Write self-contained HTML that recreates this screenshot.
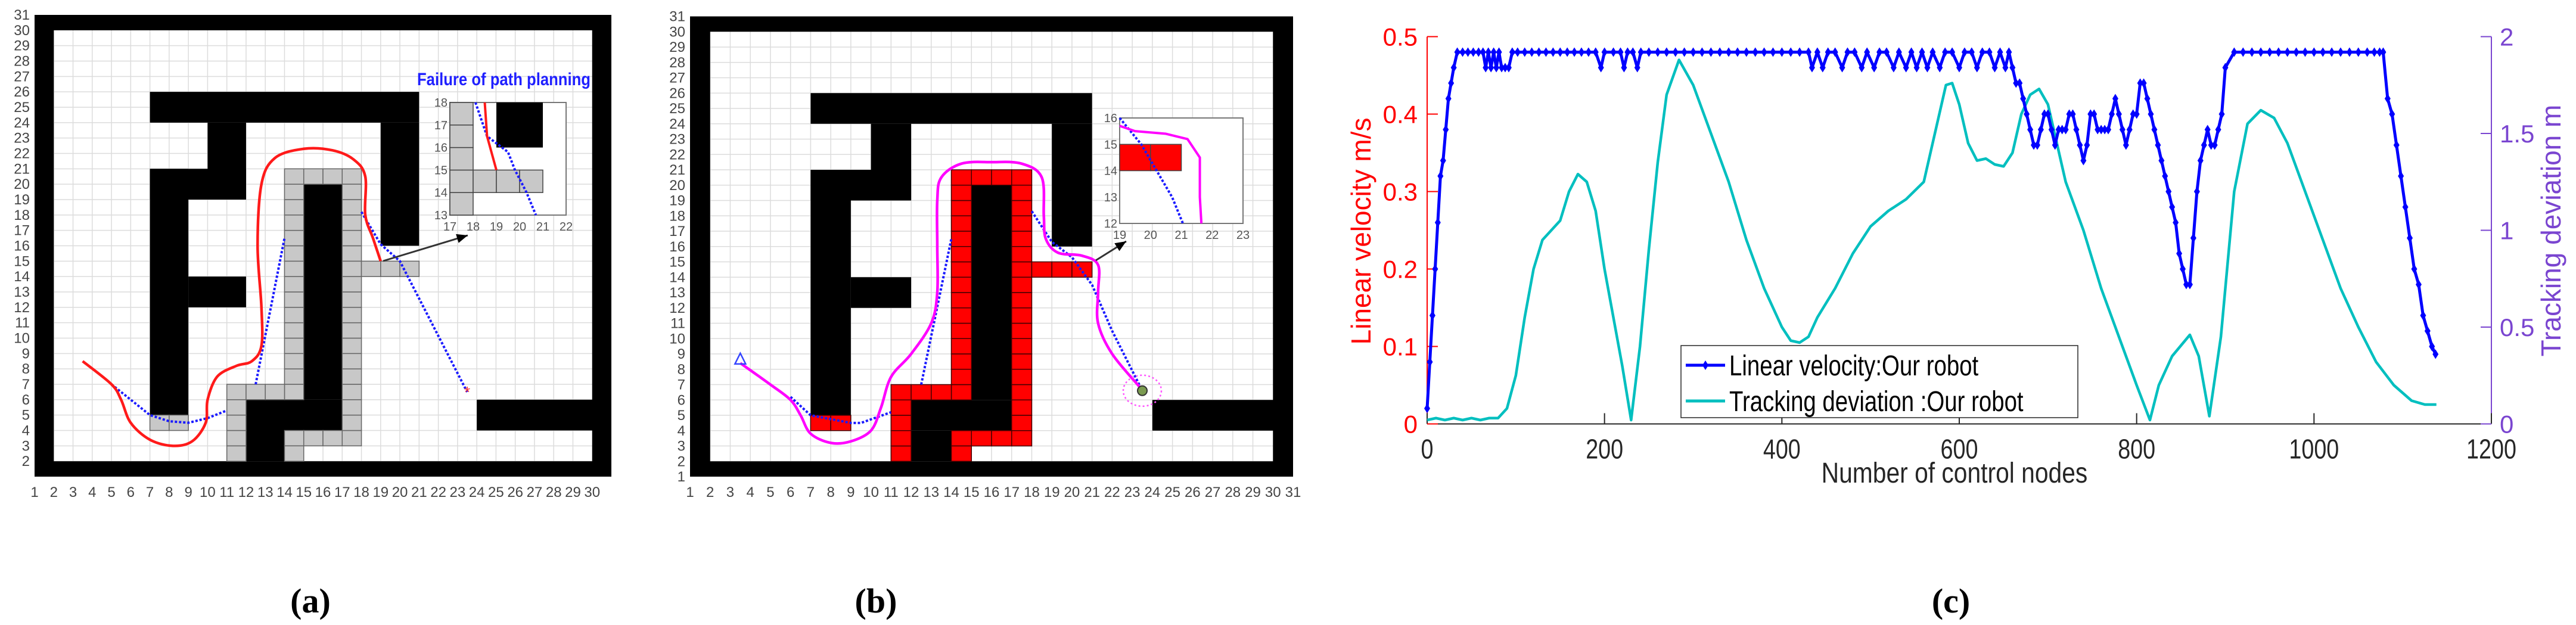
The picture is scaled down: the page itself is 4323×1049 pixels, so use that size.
<!DOCTYPE html>
<html><head><meta charset="utf-8">
<style>
html,body{margin:0;padding:0;background:#fff;}
svg{display:block;}
text{font-family:"Liberation Sans",sans-serif;}
</style></head>
<body>
<svg id="fig" width="4323" height="1049" viewBox="0 0 4323 1049" xmlns="http://www.w3.org/2000/svg">
<rect x="0" y="0" width="4323" height="1049" fill="#fff"/>
<g id="panelA"></g>
<g id="panelB"></g>
<g id="panelC"></g>
<text x="521" y="1028" font-weight="bold" font-size="58" text-anchor="middle" style="font-family:'Liberation Serif',serif">(a)</text>
<text x="1470" y="1028" font-weight="bold" font-size="58" text-anchor="middle" style="font-family:'Liberation Serif',serif">(b)</text>
<text x="3274" y="1028" font-weight="bold" font-size="58" text-anchor="middle" style="font-family:'Liberation Serif',serif">(c)</text>
</svg>
<script>
// ---------- Maze data (grid units) ----------
var blackRects = [[1,1,31,2],[1,30,31,31],[1,1,2,31],[30,1,31,31],[7,24,21,26],[10,19,12,24],[7,19,12,21],[7,5,9,21],[9,12,12,14],[19,16,21,24],[24,4,31,6],[15,6,17,20],[12,4,17,6],[12,2,14,4]];
var cellRects = [[14,6,15,21],[15,20,18,21],[17,3,18,20],[14,3,17,4],[14,2,15,3],[11,2,12,7],[12,6,14,7],[7,4,9,5],[18,14,21,15]];
var pathA = [[3.5,8.5],[5,7],[5.5,6],[6,4.5],[7,3.4],[8.2,3],[9.2,3.3],[9.9,4.5],[10,6],[10.5,7.5],[11.5,8.2],[12.3,8.5],[12.8,9.5],[12.8,12],[12.6,16],[12.8,20],[13.5,21.7],[15,22.3],[16.5,22.2],[17.6,21.6],[18.2,20.5],[18.2,18],[18.6,16.5],[19,15]];
var blueA1 = [[5,7],[7,5],[8,4.6],[9,4.5],[10,4.8],[11,5.3]];
var blueA2 = [[12.5,7],[14,16.5]];
var blueA3 = [[18,18.2],[19,16.1],[20,15],[23.5,6.5]];
var pathB = [[3.5,8.4],[5,7],[6,6],[6.5,5],[7,3.8],[8,3.2],[9,3.3],[10,4],[10.5,5.5],[11,7.5],[12,9],[13,11],[13.3,13],[13.3,16],[13.3,19],[13.5,20.5],[14.5,21.4],[16,21.5],[17.5,21.4],[18.5,20.5],[18.6,18],[18.7,16.5],[19.3,15.6],[20.5,15.4],[21.3,14.8],[21.3,13],[21.3,11],[22,9],[23.4,6.8]];
var blueB1 = [[6,6.2],[7,5],[9,4.5],[9.5,4.5],[11,5.2]];
var blueB2 = [[12.5,7],[14,16.5]];
var blueB3 = [[18,18.3],[19,16.3],[20,15.3],[21,13.5],[22,10.5],[23.5,6.6]];
var NS='http://www.w3.org/2000/svg';
function mk(tag,attrs,parent){var e=document.createElementNS(NS,tag);for(var k in attrs)e.setAttribute(k,attrs[k]);parent.appendChild(e);return e;}
function drawMaze(g,x0,x1,yTop,yBot,cellFill,cellStroke,path,pathColor,blues){
  var cw=(x1-x0)/30, ch=(yBot-yTop)/30;
  function X(v){return x0+(v-1)*cw;} function Y(v){return yBot-(v-1)*ch;}
  var bg=mk('rect',{x:X(1),y:Y(31),width:30*cw,height:30*ch,fill:'#fff'},g);
  
  
  for(var i=2;i<30;i++){
    var l=mk('line',{x1:X(i),x2:X(i),y1:Y(31),y2:Y(1),stroke:'#dcdcdc','stroke-width':1.5},g);
    
    
    var l2=mk('line',{x1:X(1),x2:X(31),y1:Y(i),y2:Y(i),stroke:'#dcdcdc','stroke-width':1.5},g);
    
    
  }
  blackRects.forEach(function(r){
    var e=mk('rect',{x:X(r[0]),y:Y(r[3]),width:(r[2]-r[0])*cw,height:(r[3]-r[1])*ch,fill:'#000'},g);
    
    
  });
  cellRects.forEach(function(r){
    for(var cx=r[0];cx<r[2];cx++)for(var cy=r[1];cy<r[3];cy++){
      var e=mk('rect',{x:X(cx),y:Y(cy+1),width:cw,height:ch,fill:cellFill,stroke:cellStroke,'stroke-width':1.5},g);
      
      
    }
  });
  blues.forEach(function(b){
    var p=mk('polyline',{points:b.map(function(q){return X(q[0])+','+Y(q[1]);}).join(' '),fill:'none',stroke:'#1a1aff','stroke-width':4,'stroke-dasharray':'4 3'},g);
    
    
  });
  var d='M'+X(path[0][0])+','+Y(path[0][1]);
  for(var i=1;i<path.length;i++){
    var p0=path[Math.max(i-2,0)],p1=path[i-1],p2=path[i],p3=path[Math.min(i+1,path.length-1)];
    var c1x=X(p1[0])+(X(p2[0])-X(p0[0]))/6,c1y=Y(p1[1])+(Y(p2[1])-Y(p0[1]))/6;
    var c2x=X(p2[0])-(X(p3[0])-X(p1[0]))/6,c2y=Y(p2[1])-(Y(p3[1])-Y(p1[1]))/6;
    d+=' C'+c1x+','+c1y+' '+c2x+','+c2y+' '+X(p2[0])+','+Y(p2[1]);
  }
  var rp=mk('path',{d:d,fill:'none',stroke:pathColor,'stroke-width':4.5},g);
  
  
  for(var i=1;i<=31;i++){
    if(i<=30||x1>2000){
      var t=mk('text',{x:X(i),y:yBot+34,'font-size':24,fill:'#444','text-anchor':'middle'},g);t.textContent=i;
      
      
    }
    if(i>=2||x1>2000){
      var t2=mk('text',{x:x0-8,y:Y(i)+8,'font-size':24,fill:'#444','text-anchor':'end'},g);t2.textContent=i;
      
      
    }
  }
  return {X:X,Y:Y};
}
function drawInset(g,bx0,by0,bx1,by1,xr,yr,cells,blacks,line,lineColor,blue){
  var sx=(bx1-bx0)/(xr[1]-xr[0]), sy=(by1-by0)/(yr[1]-yr[0]);
  function X(v){return bx0+(v-xr[0])*sx;} function Y(v){return by1-(v-yr[0])*sy;}
  var b=mk('rect',{x:bx0,y:by0,width:bx1-bx0,height:by1-by0,fill:'#fff',stroke:'#777','stroke-width':2},g);
  
  
  blacks.forEach(function(r){var e=mk('rect',{x:X(r[0]),y:Y(r[3]),width:(r[2]-r[0])*sx,height:(r[3]-r[1])*sy,fill:'#000'},g);
    
    });
  cells.forEach(function(r){
    for(var cx=r[0];cx<r[2];cx++)for(var cy=r[1];cy<r[3];cy++){
      var e=mk('rect',{x:X(cx),y:Y(cy+1),width:sx,height:sy,fill:r[4],stroke:'#444','stroke-width':1.5},g);
      
      
    }
  });
  var bp=mk('polyline',{points:blue.map(function(q){return X(q[0])+','+Y(q[1]);}).join(' '),fill:'none',stroke:'#1a1aff','stroke-width':4,'stroke-dasharray':'4 3'},g);
  
  
  var lp=mk('polyline',{points:line.map(function(q){return X(q[0])+','+Y(q[1]);}).join(' '),fill:'none',stroke:lineColor,'stroke-width':4,'stroke-linejoin':'round'},g);
  
  
  for(var v=xr[0];v<=xr[1];v++){var t=mk('text',{x:X(v),y:by1+26,'font-size':20,fill:'#555','text-anchor':'middle'},g);t.textContent=v;
    
    }
  for(var v=yr[0];v<=yr[1];v++){var t=mk('text',{x:bx0-4,y:Y(v)+7,'font-size':20,fill:'#555','text-anchor':'end'},g);t.textContent=v;
    
    }
}
function arrow(g,xa,ya,xb,yb){
  var l=mk('line',{x1:xa,y1:ya,x2:xb,y2:yb,stroke:'#333','stroke-width':3},g);
  
  
  var a=Math.atan2(yb-ya,xb-xa),L=20;
  var h=mk('polygon',{points:xb+','+yb+' '+(xb-L*Math.cos(a-0.4))+','+(yb-L*Math.sin(a-0.4))+' '+(xb-L*Math.cos(a+0.4))+','+(yb-L*Math.sin(a+0.4)),fill:'#000'},g);
  
  
}
var gA=document.getElementById('panelA');
var A=drawMaze(gA,58,1026,25,800,'#c8c8c8','#666',pathA,'#ff1a1a',[blueA1,blueA2,blueA3]);
var star=mk('text',{x:A.X(23.5),y:A.Y(6.5)+9,'font-size':26,fill:'#ff3333','text-anchor':'middle'},gA);star.textContent='*';


var ttl=mk('text',{x:700,y:143,'font-size':30,'font-weight':'bold',fill:'#2020ff',textLength:291,lengthAdjust:'spacingAndGlyphs'},gA);ttl.textContent='Failure of path planning';


drawInset(gA,755,172,950,361,[17,22],[13,18],[[17,13,18,18,'#c8c8c8'],[18,14,21,15,'#c8c8c8']],[[19,16,21,18]],[[18.5,18],[18.6,16.5],[19,15]],'#ff1a1a',[[18.1,18],[18.6,16.5],[19.5,15.8],[19.8,15],[20.3,14],[20.7,13]]);
arrow(gA,643,438,785,395);

var gB=document.getElementById('panelB');
var B=drawMaze(gB,1158,2170,27.5,800,'#ff0000','#400',pathB,'#ff00ff',[blueB1,blueB2,blueB3]);
var tri=mk('polygon',{points:B.X(3.5)+','+(B.Y(8.5)-14)+' '+(B.X(3.5)-9)+','+(B.Y(8.5)+4)+' '+(B.X(3.5)+9)+','+(B.Y(8.5)+4),fill:'none',stroke:'#3344ff','stroke-width':2.5},gB);


var gc=mk('ellipse',{cx:B.X(23.5),cy:B.Y(6.6),rx:32,ry:26,fill:'none',stroke:'#ff55ff','stroke-width':2.5,'stroke-dasharray':'3 4'},gB);


var gm=mk('circle',{cx:B.X(23.5),cy:B.Y(6.6),r:8,fill:'#7a9a50',stroke:'#333','stroke-width':2},gB);


drawInset(gB,1879,198,2086,375,[19,23],[12,16],[[19,14,21,15,'#ff0000']],[],[[19,15.7],[19.5,15.5],[20.5,15.4],[21.2,15.2],[21.6,14.5],[21.6,13],[21.65,12]],'#ff00ff',[[19,16],[19.7,15],[20.2,14],[20.7,13],[21.05,12]]);
arrow(gB,1839,437,1890,405);
</script>
<script>
// ---------- Chart (c) data ----------
var xTicks = [0,200,400,600,800,1000,1200];
var yLeftTicks = [0,0.1,0.2,0.3,0.4,0.5];
var yLeftLabels = ['0','0.1','0.2','0.3','0.4','0.5'];
var yRightTicks = [0,0.5,1,1.5,2];
var yRightLabels = ['0','0.5','1','1.5','2'];
var velX = [0,3,6,9,12,15,18,21,24,27,30,34,40,46,52,58,63,66,69,72,75,78,81,84,88,92,96,102,110,118,126,134,142,150,158,166,174,182,190,196,200,210,218,222,226,232,237,241,250,260,270,280,290,300,310,320,330,340,350,360,370,380,390,400,410,420,430,434,440,446,452,460,468,474,482,490,496,504,510,518,526,532,540,546,552,558,564,570,578,584,592,600,606,614,620,626,634,640,646,652,656,660,664,668,672,676,680,684,688,692,696,700,704,708,712,716,720,724,728,732,736,740,744,748,752,756,760,764,768,772,776,780,784,788,792,796,800,804,808,812,816,820,824,828,832,836,840,844,848,852,856,860,864,868,872,876,880,884,888,892,896,900,910,920,930,940,950,960,970,980,990,1000,1010,1020,1030,1040,1050,1060,1068,1074,1078,1083,1088,1093,1098,1103,1108,1113,1118,1123,1128,1133,1137];
var velY = [0.02,0.08,0.14,0.20,0.26,0.32,0.34,0.38,0.42,0.44,0.46,0.48,0.48,0.48,0.48,0.48,0.48,0.46,0.48,0.46,0.48,0.46,0.48,0.46,0.46,0.46,0.48,0.48,0.48,0.48,0.48,0.48,0.48,0.48,0.48,0.48,0.48,0.48,0.48,0.46,0.48,0.48,0.48,0.46,0.48,0.48,0.46,0.48,0.48,0.48,0.48,0.48,0.48,0.48,0.48,0.48,0.48,0.48,0.48,0.48,0.48,0.48,0.48,0.48,0.48,0.48,0.48,0.46,0.48,0.46,0.48,0.48,0.46,0.48,0.48,0.46,0.48,0.46,0.48,0.48,0.46,0.48,0.46,0.48,0.46,0.48,0.46,0.48,0.46,0.48,0.48,0.46,0.48,0.48,0.46,0.48,0.48,0.46,0.48,0.46,0.48,0.46,0.44,0.44,0.42,0.40,0.38,0.36,0.36,0.38,0.40,0.40,0.38,0.36,0.38,0.38,0.38,0.40,0.40,0.38,0.36,0.34,0.36,0.40,0.40,0.38,0.38,0.38,0.38,0.40,0.42,0.40,0.38,0.36,0.38,0.40,0.40,0.44,0.44,0.42,0.40,0.38,0.36,0.34,0.32,0.30,0.28,0.26,0.22,0.20,0.18,0.18,0.24,0.30,0.34,0.36,0.38,0.36,0.36,0.38,0.40,0.46,0.48,0.48,0.48,0.48,0.48,0.48,0.48,0.48,0.48,0.48,0.48,0.48,0.48,0.48,0.48,0.48,0.48,0.48,0.48,0.42,0.40,0.36,0.32,0.28,0.24,0.20,0.18,0.14,0.12,0.10,0.09,0.08,0.08,0.06];
var devX = [0,10,20,30,40,50,60,70,80,90,100,110,120,130,140,150,160,170,180,190,200,210,220,230,240,250,260,270,284,300,320,340,360,380,400,410,420,430,440,460,480,500,520,540,560,575,585,592,600,610,620,630,640,650,660,670,680,690,700,710,720,740,760,780,800,815,825,840,860,870,882,895,910,925,940,955,970,990,1010,1030,1050,1070,1090,1110,1125,1138];
var devY = [0.02,0.03,0.02,0.03,0.02,0.03,0.02,0.03,0.03,0.08,0.25,0.55,0.80,0.95,1.00,1.05,1.20,1.29,1.25,1.10,0.80,0.55,0.30,0.02,0.40,0.90,1.35,1.70,1.88,1.75,1.50,1.25,0.95,0.70,0.50,0.43,0.42,0.45,0.55,0.70,0.88,1.02,1.10,1.16,1.25,1.55,1.75,1.76,1.65,1.45,1.36,1.37,1.34,1.33,1.40,1.60,1.70,1.73,1.65,1.45,1.25,1.00,0.70,0.45,0.20,0.02,0.20,0.35,0.46,0.35,0.04,0.45,1.20,1.55,1.62,1.58,1.45,1.20,0.95,0.70,0.50,0.32,0.20,0.12,0.10,0.10];
(function(){
  var g=document.getElementById('panelC');
  var L=2395,R=4181,T=61.5,Bt=711.5;
  function sx(v){return L+(v/1200)*(R-L);}
  function syl(v){return Bt-(v/0.5)*(Bt-T);}
  function syr(v){return Bt-(v/2)*(Bt-T);}
  var purple='#7a45d0';
  var xa=mk('line',{x1:L,x2:R,y1:Bt,y2:Bt,stroke:'#262626','stroke-width':2},g);
  
  
  var la=mk('line',{x1:L,x2:L,y1:T,y2:Bt,stroke:'#ff0000','stroke-width':2},g);
  
  
  var ra=mk('line',{x1:R,x2:R,y1:T,y2:Bt,stroke:purple,'stroke-width':2},g);
  
  
  xTicks.forEach(function(v){
    var t=mk('line',{x1:sx(v),x2:sx(v),y1:Bt,y2:Bt-18,stroke:'#262626','stroke-width':2},g);
    
    
    var s=mk('text',{x:sx(v),y:Bt+58,'font-size':46,fill:'#262626','text-anchor':'middle',transform:'translate('+sx(v)+',0) scale(0.82,1) translate('+(-sx(v))+',0)'},g);s.textContent=v;
    
    
  });
  yLeftTicks.forEach(function(v,i){
    var t=mk('line',{x1:L,x2:L+18,y1:syl(v),y2:syl(v),stroke:'#ff0000','stroke-width':2},g);
    
    
    var s=mk('text',{x:L-16,y:syl(v)+15,'font-size':42,fill:'#ff0000','text-anchor':'end'},g);s.textContent=yLeftLabels[i];
    
    
  });
  yRightTicks.forEach(function(v,i){
    var t=mk('line',{x1:R,x2:R-18,y1:syr(v),y2:syr(v),stroke:purple,'stroke-width':2},g);
    
    
    var s=mk('text',{x:R+14,y:syr(v)+15,'font-size':42,fill:purple,'text-anchor':'start'},g);s.textContent=yRightLabels[i];
    
    
  });
  var xt=mk('text',{x:3280,y:810,'font-size':48,fill:'#262626','text-anchor':'middle',transform:'translate(3280,0) scale(0.85,1) translate(-3280,0)'},g);xt.textContent='Number of control nodes';
  
  
  var yl=mk('text',{x:0,y:0,'font-size':46,fill:'#ff0000','text-anchor':'middle',transform:'translate(2300,388) rotate(-90)'},g);yl.textContent='Linear velocity m/s';
  
  
  var yr=mk('text',{x:0,y:0,'font-size':46,fill:purple,'text-anchor':'middle',transform:'translate(4297,387) rotate(-90)'},g);yr.textContent='Tracking deviation m';
  
  
  var dev=mk('polyline',{points:devX.map(function(v,i){return sx(v)+','+syr(devY[i]);}).join(' '),fill:'none',stroke:'#00bfbf','stroke-width':4.5,'stroke-linejoin':'round'},g);
  
  
  var vel=mk('polyline',{points:velX.map(function(v,i){return sx(v)+','+syl(velY[i]);}).join(' '),fill:'none',stroke:'#0000ff','stroke-width':5,'stroke-linejoin':'round'},g);
  
  
  velX.forEach(function(v,i){
    var cx=sx(v),cy=syl(velY[i]);
    var m=mk('polygon',{points:cx+','+(cy-8)+' '+(cx+5)+','+cy+' '+cx+','+(cy+8)+' '+(cx-5)+','+cy,fill:'#0000ff'},g);
    
    
  });
  var lg=mk('g',{},g);
  
  
  var lb=mk('rect',{x:2821,y:580,width:666,height:121,fill:'#fff',stroke:'#262626','stroke-width':1.5},lg);
  
  
  var l1=mk('line',{x1:2829,x2:2895,y1:613,y2:613,stroke:'#0000ff','stroke-width':5},lg);
  
  
  var m1=mk('polygon',{points:'2862,605 2867,613 2862,621 2857,613',fill:'#0000ff'},lg);
  
  
  var t1=mk('text',{x:2902,y:630,'font-size':48,fill:'#000',transform:'translate(2902,0) scale(0.8,1) translate(-2902,0)'},lg);t1.textContent='Linear velocity:Our robot';
  
  
  var l2=mk('line',{x1:2829,x2:2895,y1:673,y2:673,stroke:'#00bfbf','stroke-width':5},lg);
  
  
  var t2=mk('text',{x:2902,y:690,'font-size':48,fill:'#000',transform:'translate(2902,0) scale(0.8,1) translate(-2902,0)'},lg);t2.textContent='Tracking deviation :Our robot';
  
  
})();
</script>
</body></html>
